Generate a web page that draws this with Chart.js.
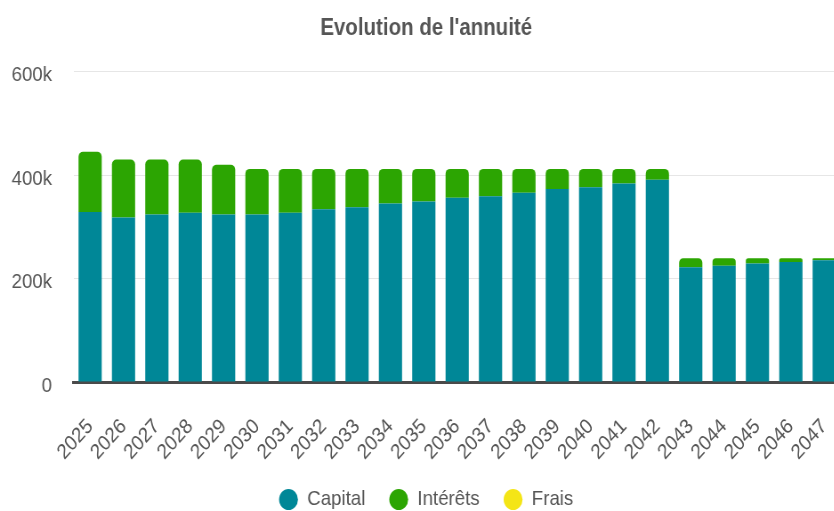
<!DOCTYPE html>
<html lang="fr">
<head>
<meta charset="utf-8">
<title>Evolution de l'annuité</title>
<script src="https://cdn.jsdelivr.net/npm/chart.js@4/dist/chart.umd.min.js"></script>
<style>
  html, body { margin: 0; padding: 0; background: #fff; overflow: hidden; }
  #wrap { width: 834px; height: 511px; overflow: hidden; }
  /* the reference looks slightly squeezed horizontally */
  #annuiteChart { width: 856px !important; height: 511px !important; display: block; }
</style>
</head>
<body>
<div id="wrap">
  <canvas id="annuiteChart" width="962" height="511"></canvas>
</div>
<script>
// Data
const years = ["2025", "2026", "2027", "2028", "2029", "2030", "2031", "2032", "2033", "2034", "2035", "2036",
  "2037", "2038", "2039", "2040", "2041", "2042", "2043", "2044", "2045", "2046", "2047"];
const capital = [328500, 318000, 324000, 327000, 324000, 324000, 327000, 334000, 338000, 345000, 349000, 356000,
  359000, 366000, 373000, 376500, 384000, 391000, 222000, 225000, 229000, 232000, 235500];
const interets = [116500, 112000, 106000, 103000, 96000, 88000, 85000, 78000, 74000, 67000, 63000, 56000,
  53000, 46000, 39000, 35500, 28000, 21000, 17500, 14500, 10500, 7500, 4000];
const frais = [0, 0, 0, 0, 0, 0, 0, 0, 0, 0, 0, 0, 0, 0, 0, 0, 0, 0, 0, 0, 0, 0, 0];
const yTicks = [0, 200000, 400000, 600000];

const textColor = "#555";
const fontFamily = "'Liberation Sans', Arial, sans-serif";

const ctx = document.getElementById("annuiteChart");
const annuiteChart = new Chart(ctx, {
  type: "bar",
  data: {
    labels: years,
    datasets: [
      {
        label: "Capital",
        data: capital,
        backgroundColor: "#008797",
        borderRadius: 0,
        barPercentage: 0.87,
        categoryPercentage: 0.8
      },
      {
        label: "Intérêts",
        data: interets,
        backgroundColor: "#2ca502",
        borderRadius: 5,
        barPercentage: 0.87,
        categoryPercentage: 0.8
      },
      {
        label: "Frais",
        data: frais,
        backgroundColor: "#f4e516",
        borderRadius: 5,
        barPercentage: 0.87,
        categoryPercentage: 0.8
      }
    ]
  },
  options: {
    responsive: false,
    devicePixelRatio: 1,
    animation: false,
    layout: { padding: { left: 13, right: 17, top: 0, bottom: -9 } },
    plugins: {
      title: {
        display: true,
        text: "Evolution de l'annuité",
        color: textColor,
        font: { family: fontFamily, size: 23, weight: "bold" },
        padding: { top: 15, bottom: 29 }
      },
      legend: {
        position: "bottom",
        labels: {
          usePointStyle: true,
          pointStyle: "circle",
          boxHeight: 15,
          padding: 27,
          color: textColor,
          font: { family: fontFamily, size: 21 }
        }
      },
      tooltip: { enabled: false }
    },
    scales: {
      x: {
        stacked: true,
        // invisible tick marks give the gap under the axis line
        grid: { drawOnChartArea: false, drawTicks: true, tickLength: 35, tickColor: "transparent" },
        border: { display: true, color: "#4a4a4a", width: 3 },
        ticks: {
          color: textColor,
          font: { family: fontFamily, size: 21, lineHeight: 0.8 },
          minRotation: 45,
          maxRotation: 45,
          padding: 0,
          autoSkip: false
        }
      },
      y: {
        stacked: true,
        min: 0,
        max: 600000,
        grid: { color: "#e6e6e6", lineWidth: 1, drawTicks: true, tickLength: 24, tickColor: "transparent" },
        border: { display: false },
        afterBuildTicks: (axis) => { axis.ticks = yTicks.map(v => ({ value: v })); },
        ticks: {
          color: textColor,
          font: { family: fontFamily, size: 21 },
          padding: 0,
          labelOffset: 4,
          callback: (v) => v === 0 ? "0" : (v / 1000) + "k"
        }
      }
    }
  }
});
</script>
</body>
</html>
